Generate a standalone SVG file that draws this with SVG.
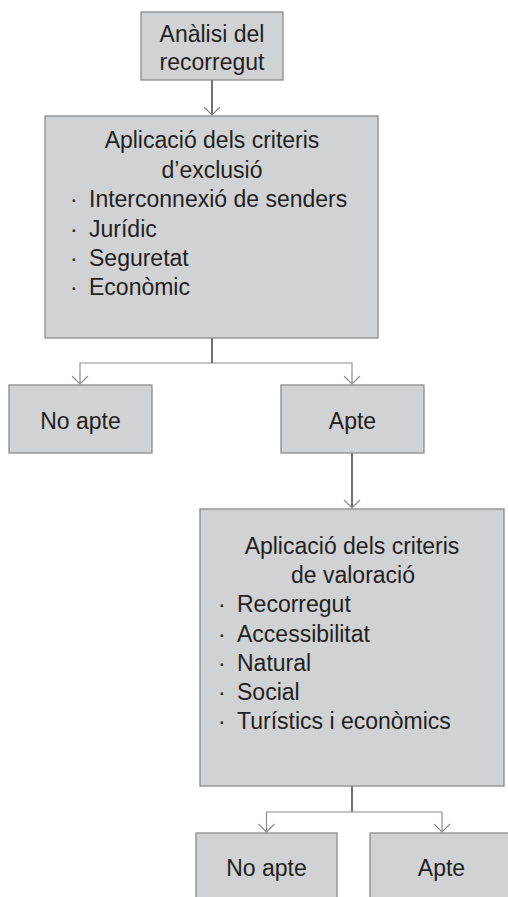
<svg xmlns="http://www.w3.org/2000/svg" width="508" height="897" viewBox="0 0 508 897">
<style>
.box{fill:#d1d2d4;stroke:#8c8c8c;stroke-width:1.3}
.t{font-family:"Liberation Sans",Arial,sans-serif;font-size:23px;fill:#231f20}
.c{text-anchor:middle}
.stem{stroke:#111;stroke-width:1.2;fill:none}
.br{stroke:#8c8c8c;stroke-width:1.2;fill:none}
</style>
<rect width="508" height="897" fill="#fff"/>
<g id="connectors">
<path class="stem" d="M212 80V115"/>
<path class="br" d="M204 107L212 115L220 107"/>
<path class="stem" d="M212 338V363"/>
<path class="br" d="M80 384V363H352V384"/>
<path class="br" d="M72 376L80 384L88 376M344 376L352 384L360 376"/>
<path class="stem" d="M352 453V508"/>
<path class="br" d="M344 500L352 508L360 500"/>
<path class="stem" d="M352 786V812"/>
<path class="br" d="M266.5 832V812H442V832"/>
<path class="br" d="M258.5 824L266.5 832L274.5 824M434 824L442 832L450 824"/>
</g>
<g id="n1">
<rect class="box" x="141" y="12" width="142" height="68"/>
<text class="t c" x="212" y="42">Anàlisi del</text>
<text class="t c" x="212" y="70">recorregut</text>
</g>
<g id="n2">
<rect class="box" x="45" y="116" width="333" height="222"/>
<text class="t c" x="212" y="148">Aplicació dels criteris</text>
<text class="t c" x="212" y="177.5">d’exclusió</text>
<text class="t" y="207"><tspan x="70">·</tspan><tspan x="89">Interconnexió de senders</tspan></text>
<text class="t" y="236.5"><tspan x="70">·</tspan><tspan x="89">Jurídic</tspan></text>
<text class="t" y="266"><tspan x="70">·</tspan><tspan x="89">Seguretat</tspan></text>
<text class="t" y="295"><tspan x="70">·</tspan><tspan x="89">Econòmic</tspan></text>
</g>
<g id="n3">
<rect class="box" x="9" y="385" width="143" height="68"/>
<text class="t c" x="80.5" y="429">No apte</text>
</g>
<g id="n4">
<rect class="box" x="281" y="385" width="143" height="68"/>
<text class="t c" x="352.5" y="429">Apte</text>
</g>
<g id="n5">
<rect class="box" x="200" y="509" width="304" height="277"/>
<text class="t c" x="352" y="554">Aplicació dels criteris</text>
<text class="t c" x="353" y="583">de valoració</text>
<text class="t" y="612"><tspan x="218">·</tspan><tspan x="237">Recorregut</tspan></text>
<text class="t" y="642"><tspan x="218">·</tspan><tspan x="237">Accessibilitat</tspan></text>
<text class="t" y="671"><tspan x="218">·</tspan><tspan x="237">Natural</tspan></text>
<text class="t" y="700"><tspan x="218">·</tspan><tspan x="237">Social</tspan></text>
<text class="t" y="729"><tspan x="218">·</tspan><tspan x="237">Turístics i econòmics</tspan></text>
</g>
<g id="n6">
<rect class="box" x="196" y="833" width="141" height="68"/>
<text class="t c" x="266.5" y="876">No apte</text>
</g>
<g id="n7">
<rect class="box" x="370" y="833" width="143" height="68"/>
<text class="t c" x="441.5" y="876">Apte</text>
</g>
</svg>
